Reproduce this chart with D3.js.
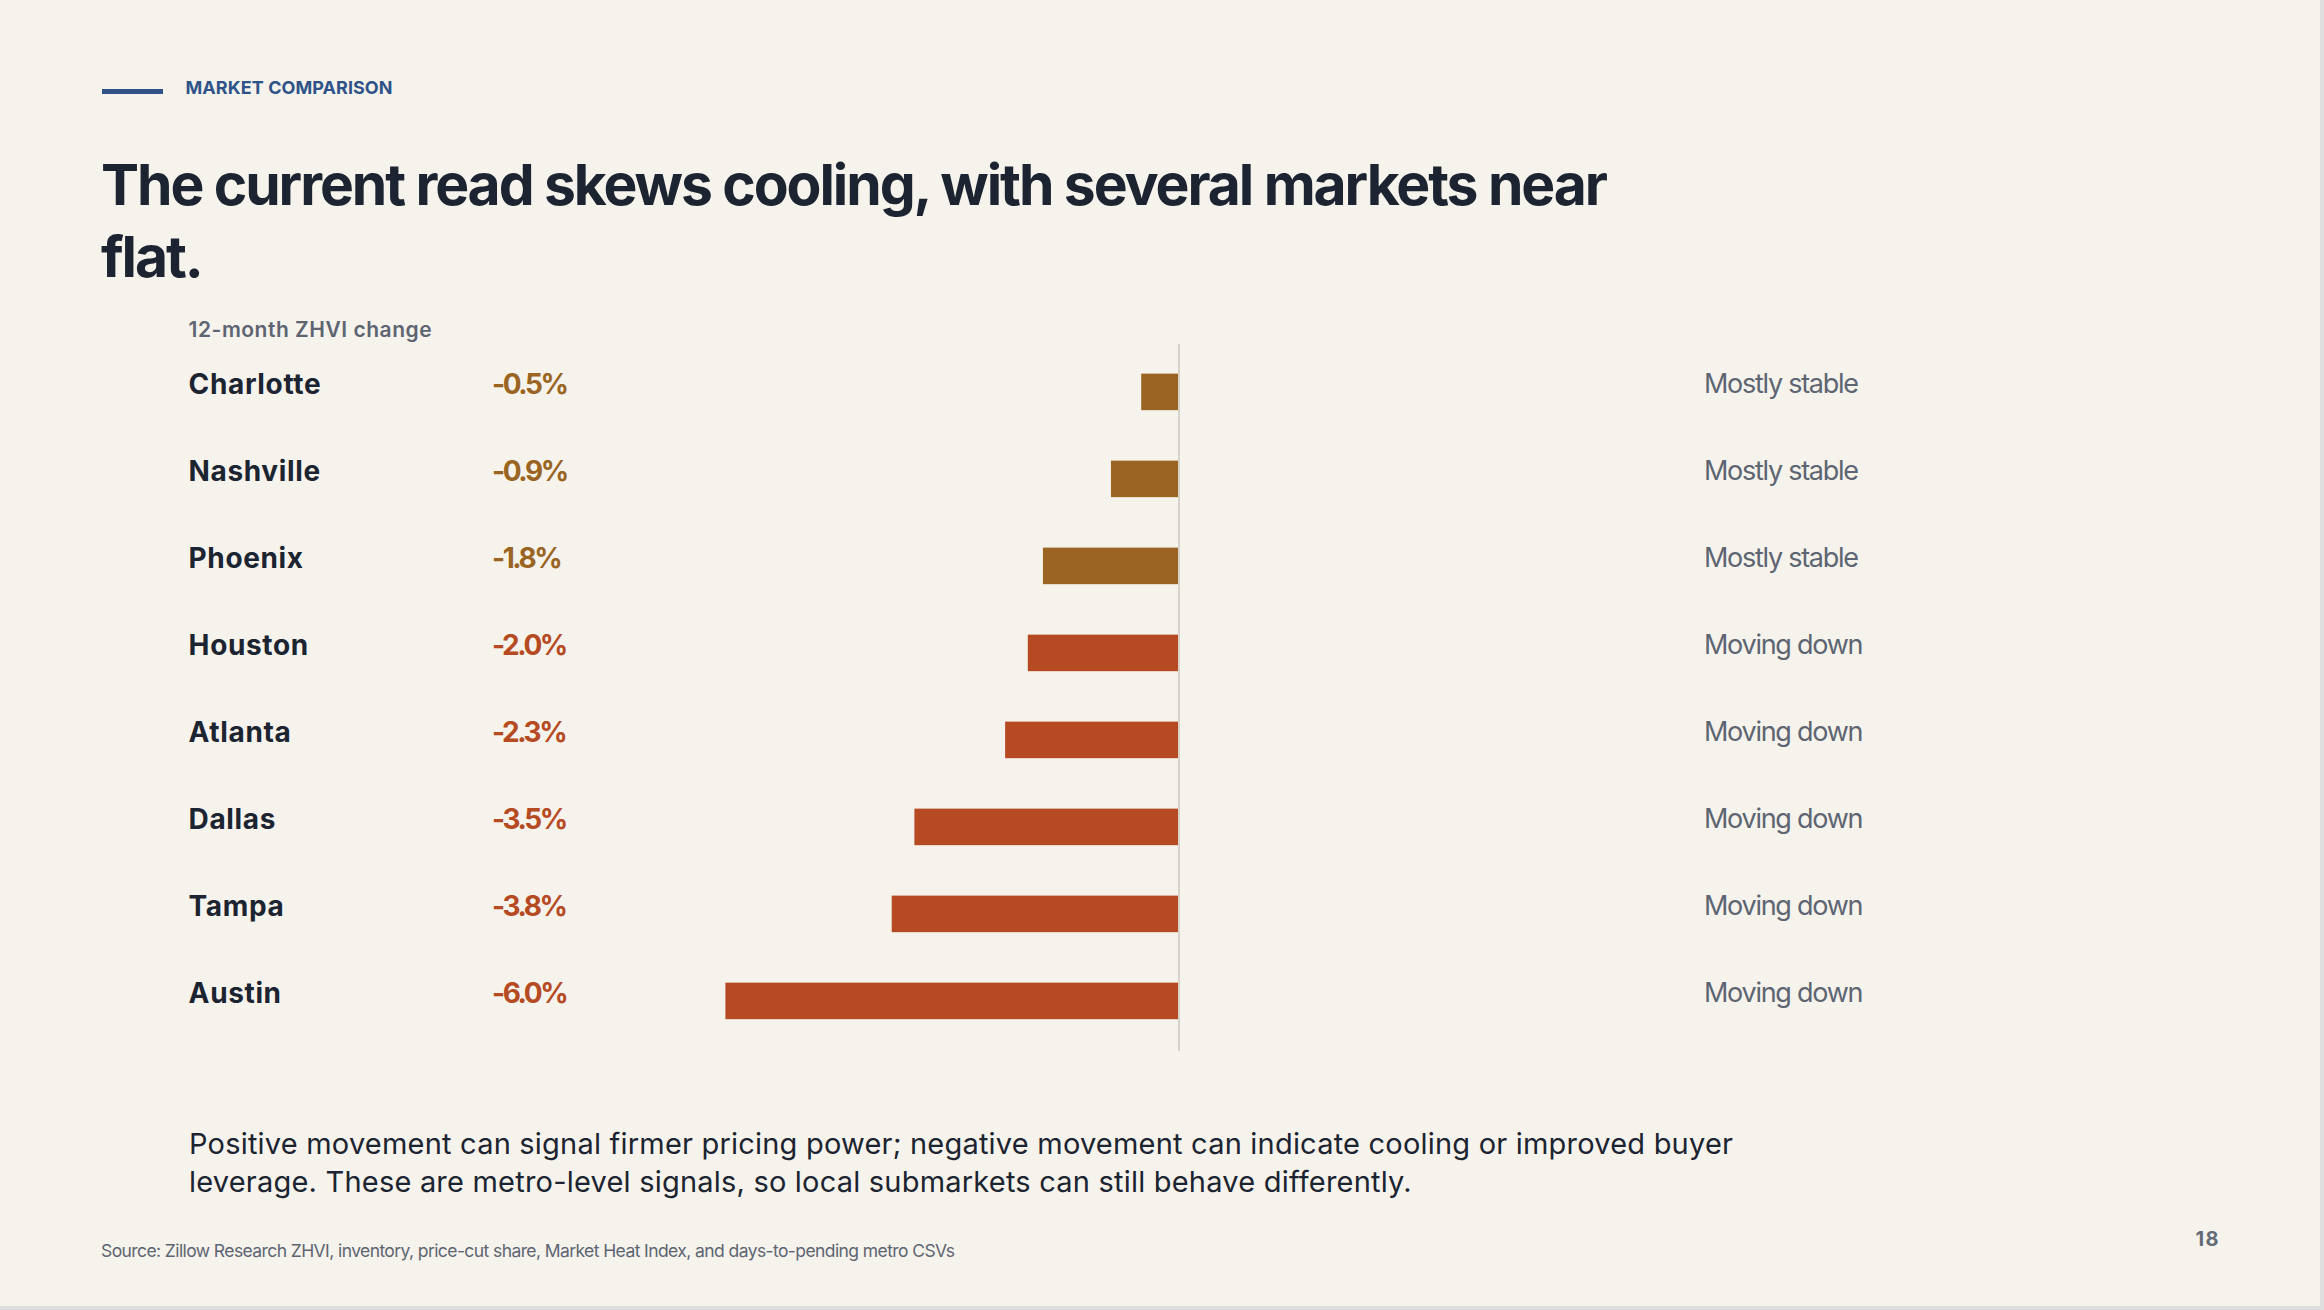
<!DOCTYPE html>
<html>
<head>
<meta charset="utf-8">
<script src="https://cdn.jsdelivr.net/npm/d3@7/dist/d3.min.js"></script>
<style>
  html, body { margin: 0; padding: 0; background: #dedede; }
  svg { display: block; }
  text { font-family: Inter, "Noto Sans", sans-serif; }
</style>
</head>
<body>
<svg id="chart" width="2324" height="1310"></svg>
<script>
// ---- Data ----
const cities = ["Charlotte", "Nashville", "Phoenix", "Houston", "Atlanta", "Dallas", "Tampa", "Austin"];
const changes = [-0.5, -0.9, -1.8, -2.0, -2.3, -3.5, -3.8, -6.0];
const signals = ["Mostly stable", "Mostly stable", "Mostly stable", "Moving down", "Moving down", "Moving down", "Moving down", "Moving down"];
const xDomain = [-6, 0];

const eyebrow = "MARKET COMPARISON";
const titleLines = ["The current read skews cooling, with several markets near", "flat."];
const subtitle = "12-month ZHVI change";
const noteLines = [
  "Positive movement can signal firmer pricing power; negative movement can indicate cooling or improved buyer",
  "leverage. These are metro-level signals, so local submarkets can still behave differently."
];
const source = "Source: Zillow Research ZHVI, inventory, price-cut share, Market Heat Index, and days-to-pending metro CSVs";
const pageNum = "18";

// ---- Styles ----
const C = {
  bg: "#f6f3ec",
  ink: "#1b2430",
  muted: "#5d6572",
  blue: "#2f5388",
  brown: "#9a6522",
  red: "#b54a23",
  zero: "#d8d3ca"
};

const svg = d3.select("#chart");
svg.append("rect").attr("x", 0).attr("y", 0).attr("width", 2320).attr("height", 1306).attr("fill", C.bg);

// fit text width via letter-spacing
function fit(sel, target) {
  sel.each(function() {
    const t = d3.select(this);
    t.attr("letter-spacing", 0);
    const w = this.getComputedTextLength();
    const n = this.textContent.length;
    if (n > 1) t.attr("letter-spacing", ((target - w) / (n - 1)).toFixed(3));
  });
}
function groupFit(sel, idx, target) {
  const node = sel.nodes()[idx];
  d3.select(node).attr("letter-spacing", 0);
  const w = node.getComputedTextLength();
  const ls = (target - w) / (node.textContent.length - 1);
  sel.attr("letter-spacing", ls.toFixed(3));
}

// Eyebrow
svg.append("line").attr("x1", 102).attr("x2", 163).attr("y1", 91.5).attr("y2", 91.5)
  .attr("stroke", C.blue).attr("stroke-width", 5);
fit(svg.append("text").attr("x", 185.5).attr("y", 94).attr("font-size", 18).attr("font-weight", 700)
  .attr("fill", C.blue).text(eyebrow), 207);

// Title
const tl = svg.selectAll("text.title").data(titleLines).join("text").attr("class", "title")
  .attr("x", 101).attr("y", (d, i) => 205 + i * 72)
  .attr("font-size", 57).attr("font-weight", 700).attr("fill", C.ink).text(d => d);
groupFit(tl, 0, 1507);

// Subtitle
fit(svg.append("text").attr("x", 188.6).attr("y", 336.7).attr("font-size", 21).attr("font-weight", 600)
  .attr("fill", C.muted).text(subtitle), 243);

// Scales
const x = d3.scaleLinear().domain(xDomain).range([725.4, 1179]);
const y = d3.scaleBand().domain(cities).range([348.4, 1044.4]).paddingInner(0.58).paddingOuter(0.29);
const rows = cities.map((c, i) => ({ city: c, v: changes[i], s: signals[i] }));
const colorFor = d => d.s === "Mostly stable" ? C.brown : C.red;
const fmt = v => d3.format(".1f")(v).replace("\u2212", "-") + "%";

// zero line
svg.append("line").attr("x1", x(0)).attr("x2", x(0)).attr("y1", 344).attr("y2", 1051)
  .attr("stroke", C.zero).attr("stroke-width", 2);

// bars
svg.selectAll("rect.bar").data(rows).join("rect").attr("class", "bar")
  .attr("x", d => x(d.v)).attr("width", d => x(0) - 1 - x(d.v))
  .attr("y", d => y(d.city)).attr("height", y.bandwidth())
  .attr("fill", colorFor);

// city labels
const cl = svg.selectAll("text.city").data(rows).join("text").attr("class", "city")
  .attr("x", 188.6).attr("y", d => y(d.city) + 20.5)
  .attr("font-size", 28).attr("font-weight", 700).attr("fill", C.ink).text(d => d.city);
groupFit(cl, 0, 132);

// value labels
const vl = svg.selectAll("text.val").data(rows).join("text").attr("class", "val")
  .attr("x", 492).attr("y", d => y(d.city) + 20.5)
  .attr("font-size", 28).attr("font-weight", 700).attr("fill", colorFor)
  .text(d => fmt(d.v));
groupFit(vl, 0, 77);

// signal labels
const sl = svg.selectAll("text.sig").data(rows).join("text").attr("class", "sig")
  .attr("x", 1704).attr("y", d => y(d.city) + 19)
  .attr("font-size", 27).attr("font-weight", 400).attr("fill", C.muted).text(d => d.s);
groupFit(sl, 0, 155);

// note
const nl = svg.selectAll("text.note").data(noteLines).join("text").attr("class", "note")
  .attr("x", 189).attr("y", (d, i) => 1154 + i * 38)
  .attr("font-size", 29).attr("font-weight", 400).attr("fill", C.ink).text(d => d);
groupFit(nl, 0, 1544);

// source
fit(svg.append("text").attr("x", 101).attr("y", 1256.7).attr("font-size", 17.5).attr("fill", C.muted)
  .text(source), 854);

// page number
fit(svg.append("text").attr("x", 2195.6).attr("y", 1245.7).attr("font-size", 20).attr("font-weight", 700)
  .attr("fill", "#646b77").text(pageNum), 23);
</script>
</body>
</html>
